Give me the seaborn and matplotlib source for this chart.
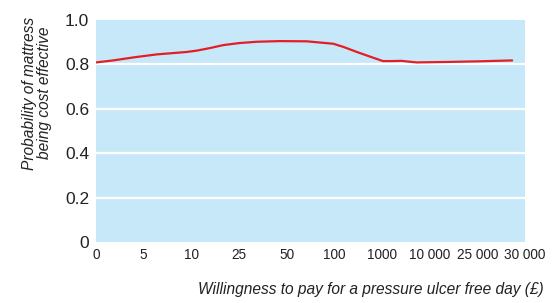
import matplotlib
matplotlib.use("Agg")
import matplotlib.pyplot as plt
import seaborn as sns
import pandas as pd

# willingness to pay categories (evenly spaced on the axis)
wtp_labels = ["0", "5", "10", "25", "50", "100", "1000", "10 000", "25 000", "30 000"]

# curve: position on the category axis and probability
curve_pos = [0.0, 0.36, 0.8, 1.27, 1.9, 2.11, 2.4, 2.67, 3.0, 3.37, 3.86, 4.42,
             4.98, 5.2, 5.46, 5.75, 6.02, 6.2, 6.41, 6.72, 7.35, 8.05, 8.73]
prob_cost_eff = [0.809, 0.818, 0.832, 0.845, 0.856, 0.862, 0.874, 0.887, 0.896, 0.902,
                 0.905, 0.904, 0.893, 0.878, 0.857, 0.835, 0.815, 0.815, 0.816, 0.809,
                 0.811, 0.814, 0.818]

y_ticks = [0, 0.2, 0.4, 0.6, 0.8, 1.0]
y_labels = ["0", "0.2", "0.4", "0.6", "0.8", "1.0"]

df = pd.DataFrame({"pos": curve_pos, "prob": prob_cost_eff})

sns.set_style("white", {"axes.facecolor": "#c6e8f9"})
plt.rcParams["font.family"] = ["Liberation Sans Narrow", "Liberation Sans", "DejaVu Sans"]

fig = plt.figure(figsize=(5.55, 3.03), dpi=100)
ax = fig.add_axes([0.173, 0.201, 0.773, 0.733])

for y in y_ticks[1:-1]:
    ax.axhline(y, color="white", lw=1.6, zorder=1)

sns.lineplot(data=df, x="pos", y="prob", ax=ax, color="#e41e26", lw=1.6, zorder=3)

ax.set_xlim(0, len(wtp_labels) - 1)
ax.set_ylim(0, 1.0)
ax.set_xticks(range(len(wtp_labels)))
ax.set_xticklabels(wtp_labels, fontsize=9.8, color="#222222")
ax.set_yticks(y_ticks)
ax.set_yticklabels(y_labels, fontsize=12.5, color="#222222")
ax.tick_params(axis="x", direction="in", length=3, width=1.2, color="white", pad=4)
ax.tick_params(axis="y", length=0, pad=5)
ax.set_xlabel("")
ax.set_ylabel("")
for s in ax.spines.values():
    s.set_visible(False)

fig.text(0.066, 0.693, "Probability of mattress\nbeing cost effective", rotation=90,
         ha="center", va="center", fontsize=11.2, style="italic", color="#222222",
         linespacing=1.0)
fig.text(0.979, 0.045, "Willingness to pay for a pressure ulcer free day (£)",
         ha="right", va="center", fontsize=11.2, style="italic", color="#222222")

fig.savefig("out.png", dpi=100)
